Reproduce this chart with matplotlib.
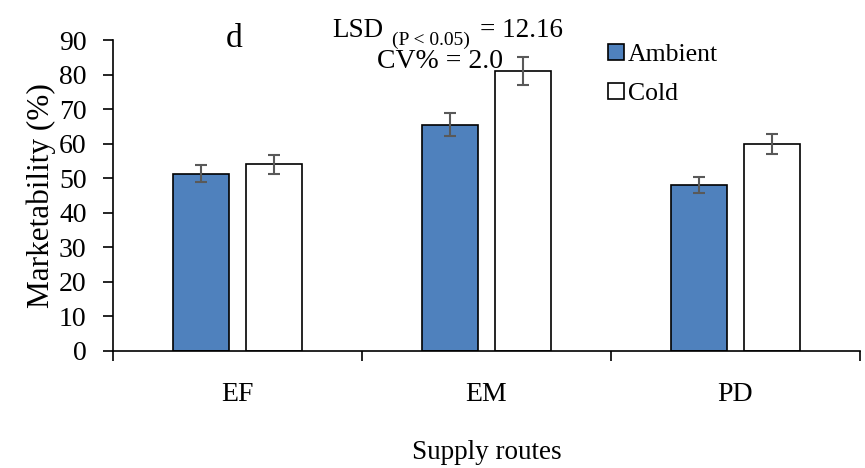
import matplotlib.pyplot as plt
import numpy as np

routes = ["EF", "EM", "PD"]
ambient = [51.3, 65.5, 48.0]
cold = [54.0, 81.0, 59.8]
ambient_err = [2.5, 3.3, 2.3]
cold_err = [2.7, 4.0, 2.9]

plt.rcParams['font.family'] = ['Liberation Serif', 'DejaVu Serif']

fig = plt.figure(figsize=(8.65, 4.68), dpi=100)
ax = fig.add_axes([113 / 865, 1 - 351 / 468, 747 / 865, 311 / 468])

x = np.arange(len(routes))
w = 0.225
gap = 0.065
err_kw = dict(ecolor="#595959", elinewidth=1.5, capsize=4.5, capthick=1.5)
ax.bar(x - (w + gap) / 2, ambient, w, yerr=ambient_err, color="#4f81bd",
       edgecolor="black", linewidth=1.2, label="Ambient", error_kw=err_kw)
ax.bar(x + (w + gap) / 2, cold, w, yerr=cold_err, color="white",
       edgecolor="black", linewidth=1.2, label="Cold", error_kw=err_kw)

ax.set_xlim(-0.5, 2.5)
ax.set_ylim(0, 90)
ax.set_yticks(range(0, 91, 10))
ax.set_xticks(x)
ax.set_xticklabels(routes)
ax.set_xticks([-0.5, 0.5, 1.5, 2.5], minor=True)
ax.tick_params(axis="x", which="major", length=0, pad=22, labelsize=20)
ax.tick_params(axis="x", which="minor", length=7, width=1.2)
ax.tick_params(axis="y", length=7, width=1.2, labelsize=20, pad=12)
for s in ["top", "right"]:
    ax.spines[s].set_visible(False)
for s in ["left", "bottom"]:
    ax.spines[s].set_linewidth(1.2)

ax.set_ylabel("Marketability (%)", fontsize=22.5, labelpad=2)
ax.set_xlabel("Supply routes", fontsize=19.5, labelpad=24)

ax.legend(loc="upper left", bbox_to_anchor=(0.663, 0.988), frameon=False,
          fontsize=18.5, handlelength=0.6, handleheight=0.6, handletextpad=0.15,
          labelspacing=0.65, borderaxespad=0, borderpad=0)

ax.text(0.162, 1.003, "d", transform=ax.transAxes, fontsize=24,
        ha="center", va="center")
# LSD line: main text, lowered subscript, then the value
ax.text(0.2932, 1.0096, "LSD", transform=ax.transAxes, fontsize=19.5,
        ha="left", va="baseline")
ax.text(0.3735, 0.985, "(P < 0.05)", transform=ax.transAxes, fontsize=14,
        ha="left", va="baseline")
ax.text(0.4913, 1.0096, "= 12.16", transform=ax.transAxes, fontsize=19.5,
        ha="left", va="baseline")
ax.text(0.354, 0.91, "CV% = 2.0", transform=ax.transAxes, fontsize=20,
        ha="left", va="baseline")

fig.savefig("out.png", dpi=100)
